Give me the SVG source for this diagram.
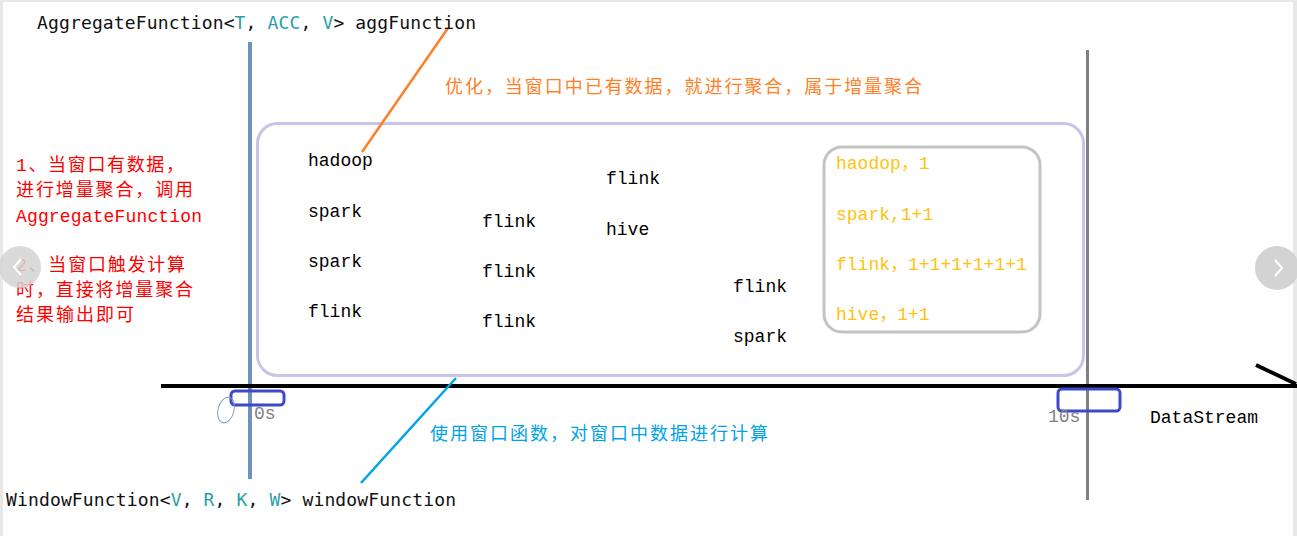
<svg xmlns="http://www.w3.org/2000/svg" width="1297" height="536" viewBox="0 0 1297 536">
<style>
.code{font-family:"DejaVu Sans Mono","Liberation Mono",monospace;font-size:18px;fill:#111}
.teal{fill:#2a9fa8}
.word{font-family:"Liberation Mono","Noto Sans CJK SC",monospace;font-size:18px;fill:#000}
.gold{font-family:"Liberation Mono","Noto Sans CJK SC",monospace;font-size:18px;fill:#ffc20e}
.red{font-family:"Liberation Mono","Noto Sans CJK SC",monospace;font-size:18px;fill:#ff0000}
.cn{font-family:"Noto Sans CJK SC",sans-serif;font-size:18px}
.tick{font-family:"Liberation Mono",monospace;font-size:18px;fill:#808080}
.mark{fill:none;stroke:#3f48cc;stroke-width:3}
</style>
<rect x="0" y="0" width="1297" height="536" fill="#ffffff"/>
<g id="page-border" fill="#e8e8e8">
<rect x="0" y="0" width="1297" height="2"/>
<rect x="0" y="0" width="3" height="536"/>
<rect x="1293" y="0" width="4" height="536"/>
</g>
<g id="window-start-line"><rect x="248" y="42" width="4" height="437" fill="#7090bf"/></g>
<g id="window-end-line"><rect x="1086" y="50" width="3" height="450" fill="#808080"/></g>
<g id="window-box"><rect x="257.5" y="123.5" width="826" height="252" rx="20" fill="none" stroke="#c8c3e8" stroke-width="3"/></g>
<g id="result-box"><rect x="824" y="147" width="216" height="185" rx="18" fill="none" stroke="#c3c3c3" stroke-width="3"/></g>
<g id="axis" stroke="#000" stroke-width="4" fill="none">
<line x1="161" y1="386" x2="1297" y2="386"/>
<line x1="1256" y1="365" x2="1296" y2="384"/>
</g>
<g id="connectors" fill="none" stroke-width="2.5">
<line x1="448" y1="28" x2="362" y2="152" stroke="#ff7f27"/>
<line x1="456" y1="378" x2="361" y2="483" stroke="#00a2e8"/>
</g>
<g id="agg-label"><text class="code" x="37" y="29" textLength="439">AggregateFunction&lt;<tspan class="teal">T</tspan>, <tspan class="teal">ACC</tspan>, <tspan class="teal">V</tspan>&gt; aggFunction</text></g>
<g id="window-label"><text class="code" x="6" y="506" textLength="450">WindowFunction&lt;<tspan class="teal">V</tspan>, <tspan class="teal">R</tspan>, <tspan class="teal">K</tspan>, <tspan class="teal">W</tspan>&gt; windowFunction</text></g>
<g id="optimize-note"><text class="cn" x="445" y="93" fill="#ff7f27" textLength="477">优化，当窗口中已有数据，就进行聚合，属于增量聚合</text></g>
<g id="window-note"><text class="cn" x="430" y="440" fill="#00a2e8" textLength="338">使用窗口函数，对窗口中数据进行计算</text></g>
<g id="steps-note">
<text class="red" x="16" y="171" textLength="168">1、当窗口有数据，</text>
<text class="red" x="16" y="196" textLength="177">进行增量聚合，调用</text>
<text class="red" x="16" y="222" textLength="186">AggregateFunction</text>
<text class="red" x="16" y="271" textLength="169">2、当窗口触发计算</text>
<text class="red" x="16" y="296" textLength="177">时，直接将增量聚合</text>
<text class="red" x="16" y="321" textLength="118">结果输出即可</text>
</g>
<g id="stream-words">
<text class="word" x="308" y="166">hadoop</text>
<text class="word" x="308" y="217">spark</text>
<text class="word" x="308" y="267">spark</text>
<text class="word" x="308" y="317">flink</text>
<text class="word" x="482" y="227">flink</text>
<text class="word" x="482" y="277">flink</text>
<text class="word" x="482" y="327">flink</text>
<text class="word" x="606" y="184">flink</text>
<text class="word" x="606" y="235">hive</text>
<text class="word" x="733" y="292">flink</text>
<text class="word" x="733" y="342">spark</text>
</g>
<g id="result-words">
<text class="gold" x="836" y="169">haodop，1</text>
<text class="gold" x="836" y="220">spark,1+1</text>
<text class="gold" x="836" y="270">flink，1+1+1+1+1+1</text>
<text class="gold" x="836" y="320">hive，1+1</text>
</g>
<g id="tick-0s">
<rect class="mark" x="231" y="391" width="53" height="14" rx="4"/>
<ellipse cx="226" cy="410" rx="8" ry="13" transform="rotate(15 226 410)" fill="none" stroke="#7f9fc0" stroke-width="1"/>
<text class="tick" x="254" y="419">0s</text>
</g>
<g id="tick-10s">
<rect class="mark" x="1058" y="389" width="62" height="22" rx="4"/>
<text class="tick" x="1048" y="422">10s</text>
</g>
<g id="datastream-label"><text class="word" x="1150" y="423">DataStream</text></g>
<g id="nav-left">
<circle cx="20" cy="267" r="21" fill="#d3d3d3" fill-opacity="0.85"/>
<polyline points="21,259 14,267 21,275" fill="none" stroke="#fff" stroke-width="2"/>
</g>
<g id="nav-right">
<circle cx="1277" cy="268" r="22" fill="#d3d3d3"/>
<polyline points="1275,260 1282,268 1275,276" fill="none" stroke="#fff" stroke-width="2"/>
</g>
</svg>
